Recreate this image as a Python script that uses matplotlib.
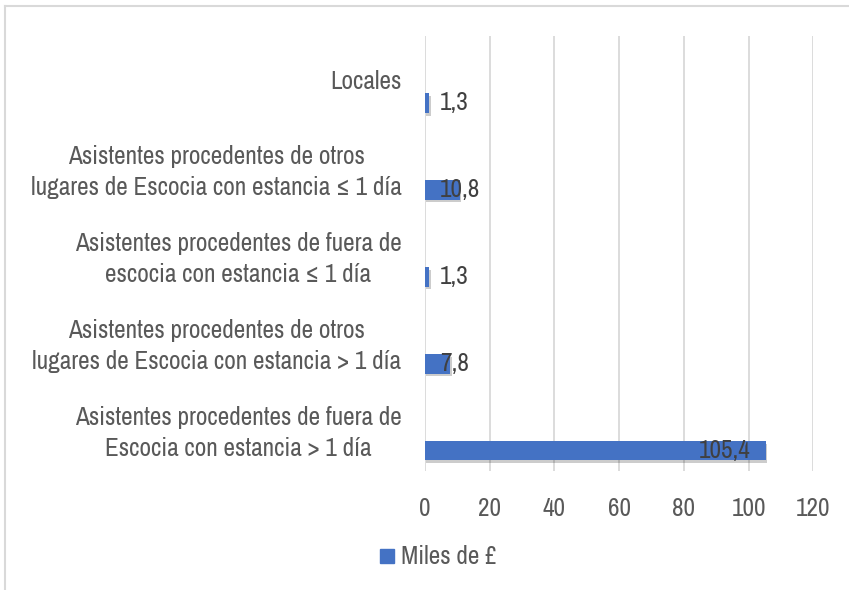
import matplotlib.pyplot as plt
import matplotlib.patheffects as pe
from matplotlib.lines import Line2D
from matplotlib import font_manager

# data
categorias = [
    "Locales",
    "Asistentes procedentes de otros\nlugares de Escocia con estancia ≤ 1 día",
    "Asistentes procedentes de fuera de\nescocia con estancia ≤ 1 día",
    "Asistentes procedentes de otros\nlugares de Escocia con estancia > 1 día",
    "Asistentes procedentes de fuera de\nEscocia con estancia > 1 día",
]
valores = [1.3, 10.8, 1.3, 7.8, 105.4]
etiquetas = ["1,3", "10,8", "1,3", "7,8", "105,4"]
serie = "Miles de £"
xticks = [0, 20, 40, 60, 80, 100, 120]

azul = "#4472C4"
gris_grid = "#d9d9d9"
gris_txt = "#595959"

# look for a narrow font (Calibri-like width), else plain sans at smaller size
nombres = sorted({f.name for f in font_manager.fontManager.ttflist})
estrecha = [n for n in nombres if "Narrow" in n or "Condensed" in n]
if estrecha:
    plt.rcParams['font.family'] = [estrecha[0], 'DejaVu Sans']
    fs = 18.2
else:
    plt.rcParams['font.family'] = ['Liberation Sans', 'DejaVu Sans']
    fs = 15

fig = plt.figure(figsize=(8.49, 5.9), dpi=100)
ax = fig.add_axes([425 / 849, 1 - 470.7 / 590, (813.3 - 425) / 849, (470.7 - 36) / 590])

pos = list(range(len(categorias)))
# bars sit below the centre of each band (second, empty series slot)
bar_y = [p + 0.27 for p in pos]
bars = ax.barh(bar_y, valores, height=0.225, color=azul, zorder=3)
for b in bars:
    b.set_path_effects([pe.SimplePatchShadow(offset=(1, -2), shadow_rgbFace="k", alpha=0.2),
                        pe.Normal()])

# data labels, "inside end" style
for y, v, t in zip(bar_y, valores, etiquetas):
    if v > 30:
        ax.annotate(t, (v, y), xytext=(-11.5, 0), textcoords="offset points",
                    ha="right", va="center", fontsize=fs, color="#404040", zorder=4)
    else:
        ax.annotate(t, (0, y), xytext=(11, 0), textcoords="offset points",
                    ha="left", va="center", fontsize=fs, color="#404040", zorder=4)

ax.set_xlim(0, 120)
ax.set_ylim(len(categorias) - 0.5, -0.5)
ax.set_xticks(xticks)
ax.set_xticklabels([str(x) for x in xticks])
ax.set_yticks(pos)
ax.set_yticklabels(categorias, multialignment="center", linespacing=1.4)
ax.tick_params(axis="both", length=0, labelsize=fs, colors=gris_txt)
ax.tick_params(axis="x", pad=19)
ax.tick_params(axis="y", pad=17)
ax.grid(axis="x", color=gris_grid, linewidth=1.3, zorder=0)
for s in ax.spines.values():
    s.set_visible(False)

# legend
h = Line2D([], [], marker="s", linestyle="none", markersize=10.5, color=azul)
fig.legend([h], [serie], loc="center", bbox_to_anchor=(437 / 849, 1 - 557 / 590),
           frameon=False, fontsize=fs, labelcolor=gris_txt, handletextpad=0.15,
           handlelength=0.8)

# chart border (only top and left visible)
fig.add_artist(Line2D([5 / 849, 1], [1 - 6 / 590, 1 - 6 / 590], color=gris_grid, lw=1.5))
fig.add_artist(Line2D([5 / 849, 5 / 849], [0, 1 - 6 / 590], color=gris_grid, lw=1.5))

plt.savefig("out.png", dpi=100)
